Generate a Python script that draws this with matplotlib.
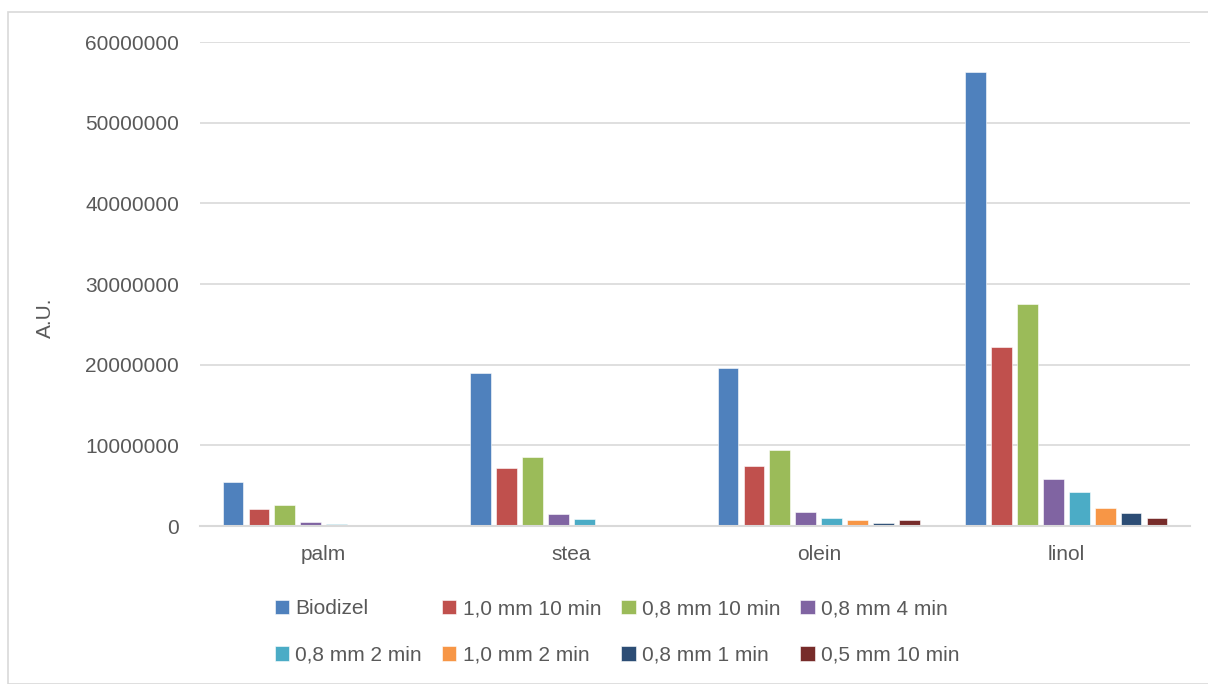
import numpy as np
import matplotlib
matplotlib.use('Agg')
import matplotlib.pyplot as plt
from matplotlib.patches import Rectangle

plt.rcParams['font.family'] = ['Liberation Sans', 'DejaVu Sans']

categories = ['palm', 'stea', 'olein', 'linol']
series = ['Biodizel', '1,0 mm 10 min', '0,8 mm 10 min', '0,8 mm 4 min',
          '0,8 mm 2 min', '1,0 mm 2 min', '0,8 mm 1 min', '0,5 mm 10 min']
biodizel   = [5500000, 18950000, 19550000, 56300000]
mm10_10    = [2100000, 7180000, 7380000, 22250000]
mm08_10    = [2570000, 8550000, 9370000, 27500000]
mm08_4     = [530000, 1540000, 1740000, 5880000]
mm08_2     = [280000, 870000, 950000, 4190000]
mm10_2     = [150000, 100000, 700000, 2280000]
mm08_1     = [60000, 80000, 410000, 1660000]
mm05_10    = [50000, 70000, 780000, 990000]
values = [biodizel, mm10_10, mm08_10, mm08_4, mm08_2, mm10_2, mm08_1, mm05_10]
colors = ['#4F81BD', '#C0504D', '#9BBB59', '#8064A2',
          '#4BACC6', '#F79646', '#2C4D75', '#772C2A']

TXT = '#595959'; GRID = '#d9d9d9'
W, H = 1208, 684
fig = plt.figure(figsize=(W/100, H/100), dpi=100)
fig.patches.append(Rectangle((8/W, 0), 1.0, 1 - 12/H, transform=fig.transFigure,
                             fill=False, edgecolor=GRID, lw=1.2))
ax = fig.add_axes([200/W, 1 - 526/H, 990/W, 484/H])

x = np.arange(len(categories))
step = 0.105; bw = 0.083
for i, (name, vals, c) in enumerate(zip(series, values, colors)):
    ax.bar(x + (i - 3.5) * step, vals, bw, color=c, edgecolor='white', lw=0.4,
           label=name, zorder=3)

ax.set_xlim(-0.5, 3.5); ax.set_ylim(0, 60000000)
ax.set_yticks(np.arange(0, 60000001, 10000000))
ax.set_yticklabels([f'{int(v)}' for v in np.arange(0, 60000001, 10000000)])
ax.set_xticks(x); ax.set_xticklabels(categories)
ax.grid(axis='y', color=GRID, lw=1.2, zorder=0)
for s in ['top', 'right', 'left']:
    ax.spines[s].set_visible(False)
ax.spines['bottom'].set_color(GRID); ax.spines['bottom'].set_linewidth(1.5)
ax.spines['bottom'].set_zorder(4)
ax.tick_params(axis='both', length=0, colors=TXT, labelsize=15)
ax.tick_params(axis='y', pad=15)
ax.tick_params(axis='x', pad=14)

fig.text(45/W, 1 - 318/H, 'A.U.', rotation=90, ha='center', va='center',
         fontsize=15, color=TXT)

# legend is filled column by column, so reorder to read row by row
handles, labels = ax.get_legend_handles_labels()
order = [0, 4, 1, 5, 2, 6, 3, 7]
leg = fig.legend([handles[k] for k in order], [labels[k] for k in order], ncol=4,
                 loc='center', bbox_to_anchor=(617/W, 1 - 632/H),
                 frameon=False, fontsize=15, handlelength=0.7, handleheight=0.7,
                 handletextpad=0.3, columnspacing=0.95, labelspacing=1.3)
for t in leg.get_texts():
    t.set_color(TXT)

fig.savefig('out.png', dpi=100)
